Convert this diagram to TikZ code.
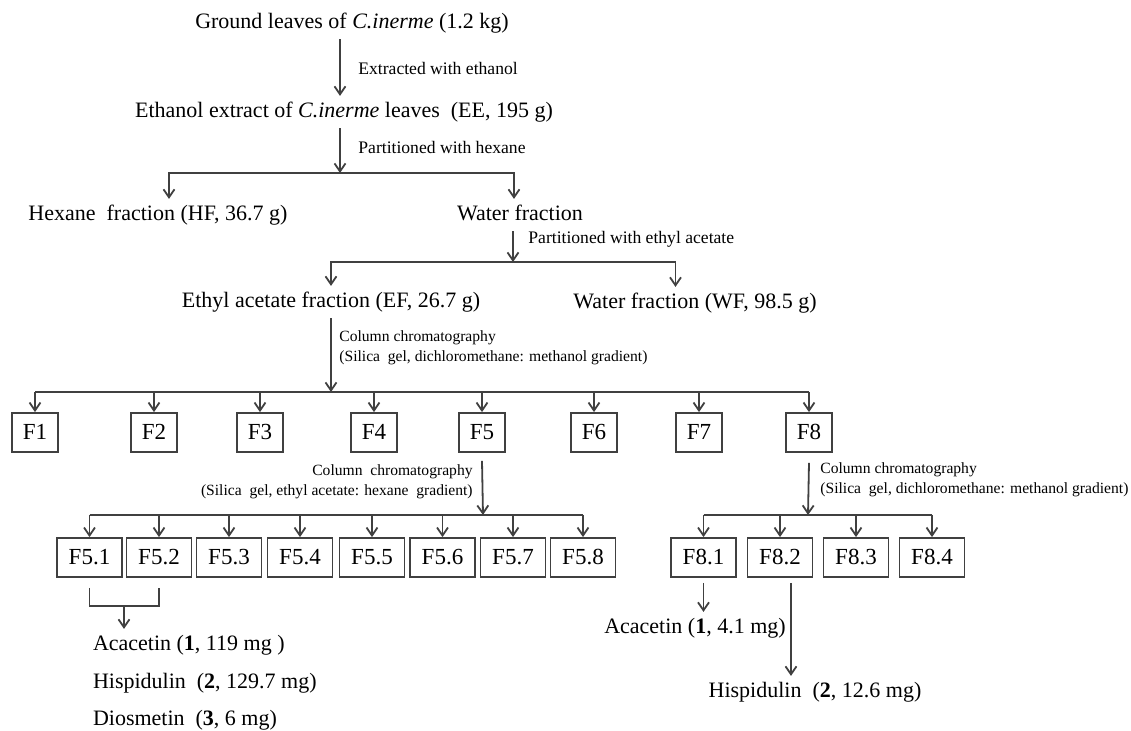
\documentclass[tikz,border=0pt]{standalone}
\usepackage{fontspec}
\setmainfont{Liberation Serif}
\usetikzlibrary{arrows.meta}
\tikzset{arr/.style={-{Straight Barb[length=4pt,width=5.5pt]},line width=0.9pt,draw=black!75}}
\tikzset{bar/.style={line width=0.9pt,draw=black!75}}
\tikzset{maintext/.style={inner sep=0pt,outer sep=3pt,text height=7.7pt,text depth=2.4pt,font=\fontsize{11}{13}\selectfont}}
\tikzset{steptext/.style={inner sep=0pt,anchor=west,font=\fontsize{8.8}{10}\selectfont}}
\tikzset{colltext/.style={inner sep=0pt,font=\fontsize{7.8}{10}\selectfont}}
\tikzset{fbox/.style={draw=black!75,line width=0.9pt,inner xsep=0pt,inner ysep=6pt,text height=7.5pt,text depth=0pt,minimum width=23pt,minimum height=19.5pt,font=\fontsize{11.5}{13}\selectfont}}
\tikzset{subbox/.style={fbox,minimum width=32.5pt}}

\begin{document}
\begin{tikzpicture}[x=0.5pt,y=-0.5pt]
            \useasboundingbox (0,0) rectangle (1131,731);
            % extraction and partition
            \node[maintext] (ground) at (352,23) {Ground leaves of \textit{C.inerme} (1.2 kg)};
            \node[maintext] (ee) at (344,112) {Ethanol extract of \textit{C.inerme} leaves\ \ (EE, 195 g)};
            \node[maintext] (hexane) at (158,215) {Hexane\ \ fraction (HF, 36.7 g)};
            \node[maintext] (water) at (520,215) {Water fraction};
            \node[maintext] (ef) at (331,302) {Ethyl acetate fraction (EF, 26.7 g)};
            \node[maintext] (wf) at (695,303) {Water fraction (WF, 98.5 g)};
            \coordinate (b1) at (340,173);
            \coordinate (b2) at (513,262);
            \coordinate (fbar) at (331,392);
            \draw[arr] (ground.south -| b1) -- (ee.north -| b1);
            \node[steptext] (lbl1) at (358,68) {Extracted with ethanol};
            \draw[arr] (ee.south -| b1) -- (b1);
            \node[steptext] (lbl2) at (358,147) {Partitioned with hexane};
            \draw[arr] (b1) -| ([xshift=5.5pt]hexane.north);
            \draw[arr] (b1) -| ([xshift=-3pt]water.north);
            \draw[arr] (water.south -| b2) -- (b2);
            \node[steptext] (lbl3) at (528,239) {Partitioned with ethyl acetate};
            \draw[arr] (b2) -| (ef.north);
            \draw[arr] (b2) -| ([xshift=-9.75pt]wf.north);
            \draw[arr] (ef.south) -- (fbar);
            \node[colltext,anchor=west,align=left] (lbl4) at (339,348) {Column chromatography\\(Silica\ \ gel, dichloromethane: methanol gradient)};
            % first column fractions
            \foreach \name/\label/\x in {f1/F1/35,f2/F2/154,f3/F3/260,f4/F4/374,f5/F5/482,f6/F6/594,f7/F7/699,f8/F8/809}
            {
                \node[fbox] (\name) at (\x,432.5) {\label};
            }
            \draw[bar] (fbar -| f1.north) -- (fbar -| f8.north);
            \foreach \i in {1,...,8}
            {
                \draw[arr] (fbar -| f\i.north) -- (f\i.north);
            }
            % column of F5
            \coordinate (f5bar) at (483,515);
            \draw[arr] ([yshift=-4pt]f5.south) -- (f5bar);
            \node[colltext,anchor=east,align=right] (lbl5) at (473,482) {Column\ \ chromatography\\(Silica\ \ gel, ethyl acetate: hexane\ \ gradient)};
            \foreach \i/\x in {1/89.5,2/159,3/229,4/300,5/372,6/442.5,7/513,8/583}
            {
                \node[subbox] (f5\i) at (\x,557.5) {F5.\i};
                \draw[arr] (f5bar -| f5\i.north) -- (f5\i.north);
            }
            \draw[bar] (f5bar -| f51.north) -- (f5bar -| f58.north);
            % column of F8
            \coordinate (f8bar) at (808,515);
            \draw[arr] ([yshift=-5pt]f8.south) -- (f8bar);
            \node[colltext,anchor=west,align=left] (lbl6) at (820,480) {Column chromatography\\(Silica\ \ gel, dichloromethane: methanol gradient)};
            \foreach \i/\x in {1/703.5,2/780,3/856,4/932}
            {
                \node[subbox] (f8\i) at (\x,557.5) {F8.\i};
                \draw[arr] (f8bar -| f8\i.north) -- (f8\i.north);
            }
            \draw[bar] (f8bar -| f81.north) -- (f8bar -| f84.north);
            % compounds
            \coordinate (brk) at (124,606);
            \draw[bar] ([yshift=-5pt]f51.south) |- (brk) -| ([yshift=-5pt]f52.south);
            \node[maintext,anchor=west] (aca1) at (87,645) {Acacetin (\textbf{1}, 119 mg )};
            \node[maintext,anchor=west] (hisp1) at (87,683) {Hispidulin\ \ (\textbf{2}, 129.7 mg)};
            \node[maintext,anchor=west] (dios1) at (87,720) {Diosmetin\ \ (\textbf{3}, 6 mg)};
            \draw[arr] (brk) -- (aca1.north -| brk);
            \node[maintext] (aca2) at (695,628) {Acacetin (\textbf{1}, 4.1 mg)};
            \node[maintext] (hisp2) at (815,692) {Hispidulin\ \ (\textbf{2}, 12.6 mg)};
            \coordinate (a82) at ([xshift=5.5pt,yshift=-2.5pt]f82.south);
            \draw[arr] ([yshift=-2.5pt]f81.south) -- (aca2.north -| f81.south);
            \draw[arr] (a82) -- (hisp2.north -| a82);
\end{tikzpicture}
\end{document}
